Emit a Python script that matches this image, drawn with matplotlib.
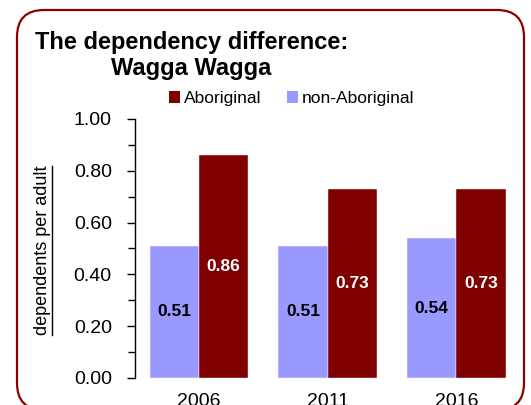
import matplotlib
matplotlib.use('Agg')
import matplotlib.pyplot as plt
import numpy as np
from matplotlib.patches import FancyBboxPatch, Patch
from matplotlib.transforms import IdentityTransform
from matplotlib.lines import Line2D
from matplotlib.ticker import MultipleLocator, FormatStrFormatter

years = ['2006', '2011', '2016']
aboriginal = [0.86, 0.73, 0.73]
non_aboriginal = [0.51, 0.51, 0.54]
series_names = ['Aboriginal', 'non-Aboriginal']
title_line1 = 'The dependency difference:'
title_line2 = 'Wagga Wagga'
ylabel = 'dependents per adult'

DARK = '#800000'
LIGHT = '#9999FF'

plt.rcParams['font.family'] = ['Liberation Sans', 'DejaVu Sans']

fig = plt.figure(figsize=(5.31, 4.05), dpi=100)
ax = fig.add_axes([0.2537, 0.0667, 0.7269, 0.6395])

x = np.arange(len(years))
w = 0.384
b_non = ax.bar(x - w / 2, non_aboriginal, w, color=LIGHT, edgecolor='white', linewidth=0.3)
b_abo = ax.bar(x + w / 2, aboriginal, w, color=DARK, edgecolor='white', linewidth=0.3)

ax.bar_label(b_non, fmt='%.2f', label_type='center', fontsize=12.5,
             fontweight='bold', color='black')
ax.bar_label(b_abo, fmt='%.2f', label_type='center', fontsize=12.5,
             fontweight='bold', color='white')

ax.set_xlim(-0.5, len(years) - 0.5)
ax.set_ylim(0, 1.0)
ax.yaxis.set_major_locator(MultipleLocator(0.2))
ax.yaxis.set_minor_locator(MultipleLocator(0.1))
ax.yaxis.set_major_formatter(FormatStrFormatter('%.2f'))
ax.set_xticks(x)
ax.set_xticklabels(years)

for s in ['top', 'right', 'bottom']:
    ax.spines[s].set_visible(False)
ax.spines['left'].set_linewidth(1.0)
ax.tick_params(axis='y', which='major', length=6, width=1.0, pad=10.5, labelsize=14)
ax.tick_params(axis='y', which='minor', length=5, width=1.0)
ax.tick_params(axis='x', which='both', length=0, pad=11, labelsize=14)

# title
fig.text(35 / 531, 1 - 49.3 / 405, title_line1, fontsize=17, fontweight='bold',
         ha='left', va='baseline')
fig.text(111 / 531, 1 - 75 / 405, title_line2, fontsize=17, fontweight='bold',
         ha='left', va='baseline')

# legend
handles = [Patch(facecolor=DARK, edgecolor='none'), Patch(facecolor=LIGHT, edgecolor='none')]
fig.legend(handles, series_names, loc='center left',
           bbox_to_anchor=(169.3 / 531, 1 - 98.7 / 405), ncol=2, frameon=False,
           fontsize=12.5, handlelength=0.62, handleheight=0.62, handletextpad=0.2,
           columnspacing=1.5, borderpad=0, borderaxespad=0)

# y label (underlined)
yl = fig.text(43 / 531, 1 - 250.5 / 405, ylabel, rotation=90, fontsize=13,
              ha='center', va='center')

# rounded border
border = FancyBboxPatch((17, -5), 507, 400, boxstyle='round,pad=0,rounding_size=27',
                        transform=IdentityTransform(), fill=False,
                        edgecolor='#8B0000', linewidth=1.6, clip_on=False)
fig.add_artist(border)

fig.canvas.draw()
bb = yl.get_window_extent(renderer=fig.canvas.get_renderer())
ul = Line2D([bb.x1, bb.x1], [bb.y0, bb.y1], transform=IdentityTransform(),
            color='black', linewidth=1.0)
fig.add_artist(ul)

fig.savefig('out.png', dpi=100)
